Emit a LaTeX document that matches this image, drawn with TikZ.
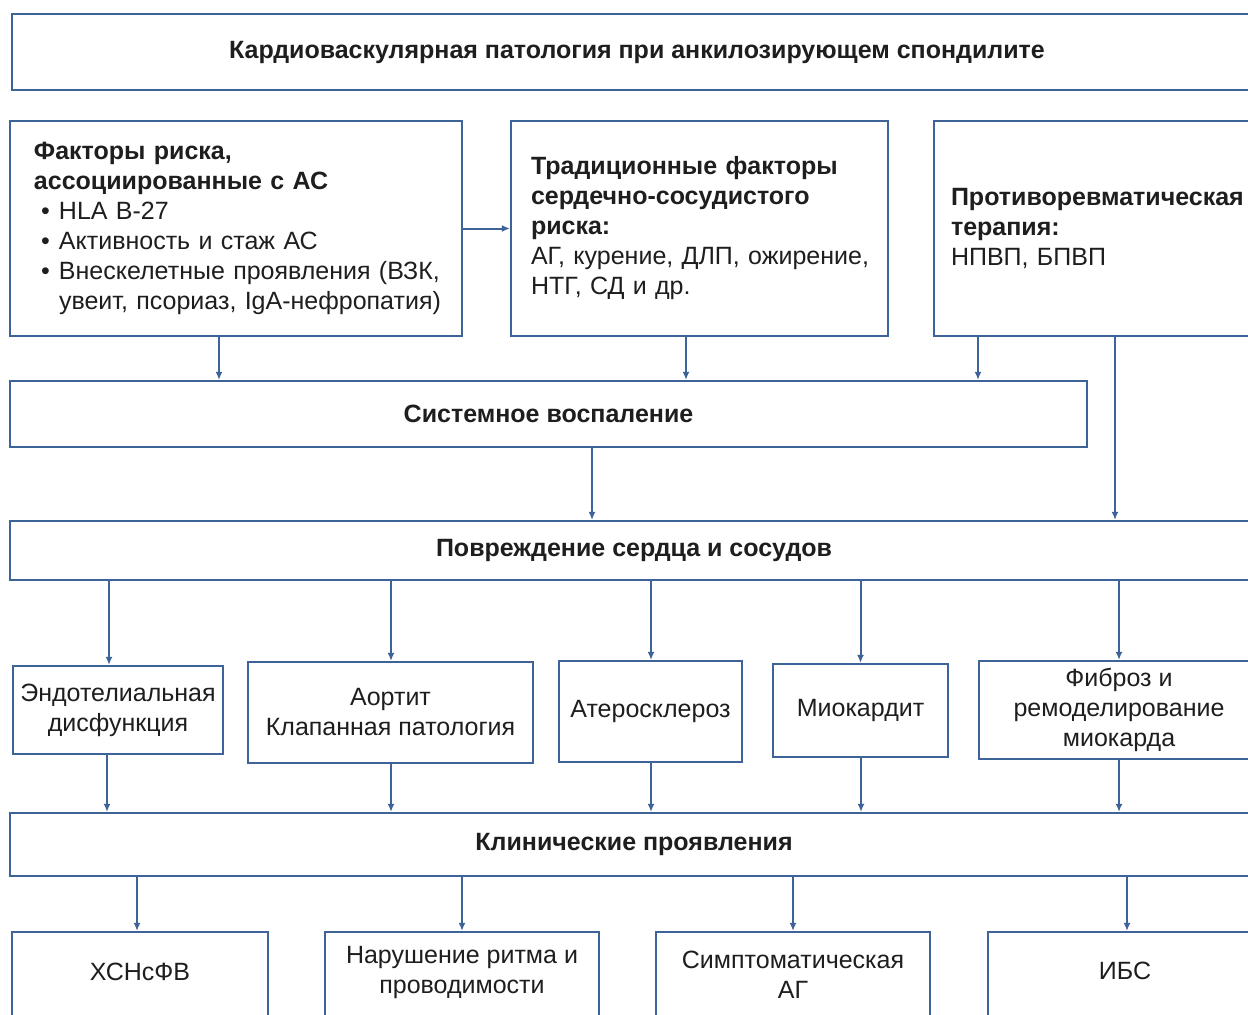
\documentclass[tikz,border=0pt]{standalone}
\usepackage{fontspec}
\setmainfont{Liberation Sans}
\usetikzlibrary{arrows.meta}
\definecolor{edge}{HTML}{3D6399}
\definecolor{ink}{HTML}{1E1E1E}

\begin{document}
\begin{tikzpicture}[x=1pt,y=-1pt,
  box/.style={draw=edge, line width=2.2pt, rectangle, inner sep=0pt, align=center,
    text=ink, font=\fontsize{25}{30}\selectfont},
  bbox/.style={box, font=\fontsize{25}{30}\selectfont\bfseries},
  lbox/.style={box, align=left},
  arr/.style={draw=edge, line width=2pt, -{Latex[length=8pt,width=7pt]}},
  txt/.style={align=center, text=ink, font=\fontsize{25}{30}\selectfont},
]
\useasboundingbox (0,0) rectangle (1248,1015);
\fill[white] (0,0) rectangle (1248,1015);
\clip (0,0) rectangle (1248,1015);

% heading
\node[bbox, minimum width=1250, minimum height=76] (title) at (637,52)
  {Кардиоваскулярная патология при анкилозирующем спондилите};

% risk factors and therapy
\node[lbox, minimum width=452, minimum height=215, text width=404] (risk) at (236,228.5)
  {{\bfseries Факторы риска,\\ассоциированные с АС}\\
   \hspace*{7pt}\makebox[18pt][l]{•}HLA B-27\\
   \hspace*{7pt}\makebox[18pt][l]{•}Активность и стаж АС\\
   \hspace*{7pt}\makebox[18pt][l]{•}\mbox{Внескелетные проявления (ВЗК,}\\
   \hspace*{25pt}\mbox{увеит, псориаз, IgA-нефропатия)}};
\node[lbox, minimum width=377, minimum height=215, text width=337] (trad) at (699.5,228.5)
  {{\bfseries Традиционные факторы\\сердечно-сосудистого\\риска:}\\
   \mbox{АГ, курение, ДЛП, ожирение,}\\НТГ, СД и др.};
\node[lbox, minimum width=366, minimum height=215, text width=332] (ther) at (1117,228.5)
  {{\bfseries Противоревматическая\\терапия:}\\НПВП, БПВП};

% mechanisms
\node[bbox, minimum width=1077, minimum height=66] (sys) at (548.5,414)
  {Системное воспаление};
\node[bbox, minimum width=1248, minimum height=59] (dmg) at (634,550.5)
  {Повреждение сердца и сосудов};

\node[box, minimum width=210, minimum height=88] (e1) at (118,710)
  {Эндотелиальная\\дисфункция};
\node[box, minimum width=285, minimum height=101] (e2) at (390.5,712.5)
  {Аортит\\Клапанная патология};
\node[box, minimum width=183, minimum height=101] (e3) at (650.5,711.5)
  {Атеросклероз};
\node[box, minimum width=175, minimum height=93] (e4) at (860.5,710.5)
  {Миокардит};
\node[box, minimum width=280, minimum height=98] (e5) at (1119,710)
  {Фиброз и\\ремоделирование\\миокарда};

% clinical outcomes
\node[bbox, minimum width=1248, minimum height=63] (clin) at (634,844.5)
  {Клинические проявления};

\node[box, minimum width=256, minimum height=113,
  label={[txt, yshift=16.5pt]center:ХСНсФВ}] (f1) at (140,988.5) {};
\node[box, minimum width=274, minimum height=113,
  label={[txt, yshift=16.5pt]center:Нарушение ритма и\\проводимости}] (f2) at (462,988.5) {};
\node[box, minimum width=274, minimum height=113,
  label={[txt, yshift=14pt]center:Симптоматическая\\АГ}] (f3) at (793,988.5) {};
\node[box, minimum width=274, minimum height=113,
  label={[txt, yshift=17.5pt]center:ИБС}] (f4) at (1125,988.5) {};

% connectors
\draw[arr] (risk.east) -- (trad.west);
\draw[arr] ([xshift=-17pt]risk.south) -- ([xshift=-17pt]risk.south |- sys.north);
\draw[arr] ([xshift=-13.5pt]trad.south) -- ([xshift=-13.5pt]trad.south |- sys.north);
\draw[arr] ([xshift=-139pt]ther.south) -- ([xshift=-139pt]ther.south |- sys.north);
\draw[arr] ([xshift=-2pt]ther.south) -- ([xshift=-2pt]ther.south |- dmg.north);
\draw[arr] ([xshift=43.5pt]sys.south) -- ([xshift=43.5pt]sys.south |- dmg.north);

\draw[arr] ([xshift=-9pt]e1.north |- dmg.south) -- ([xshift=-9pt]e1.north);
\draw[arr] ([xshift=0.5pt]e2.north |- dmg.south) -- ([xshift=0.5pt]e2.north);
\draw[arr] ([xshift=0.5pt]e3.north |- dmg.south) -- ([xshift=0.5pt]e3.north);
\draw[arr] (e4.north |- dmg.south) -- (e4.north);
\draw[arr] (e5.north |- dmg.south) -- (e5.north);

\draw[arr] ([xshift=-11pt]e1.south) -- ([xshift=-11pt]e1.south |- clin.north);
\draw[arr] ([xshift=0.5pt]e2.south) -- ([xshift=0.5pt]e2.south |- clin.north);
\draw[arr] ([xshift=0.5pt]e3.south) -- ([xshift=0.5pt]e3.south |- clin.north);
\draw[arr] ([xshift=0.5pt]e4.south) -- ([xshift=0.5pt]e4.south |- clin.north);
\draw[arr] (e5.south) -- (e5.south |- clin.north);

\draw[arr] ([xshift=-3pt]f1.north |- clin.south) -- ([xshift=-3pt]f1.north);
\draw[arr] (f2.north |- clin.south) -- (f2.north);
\draw[arr] (f3.north |- clin.south) -- (f3.north);
\draw[arr] ([xshift=2pt]f4.north |- clin.south) -- ([xshift=2pt]f4.north);
\end{tikzpicture}
\end{document}
